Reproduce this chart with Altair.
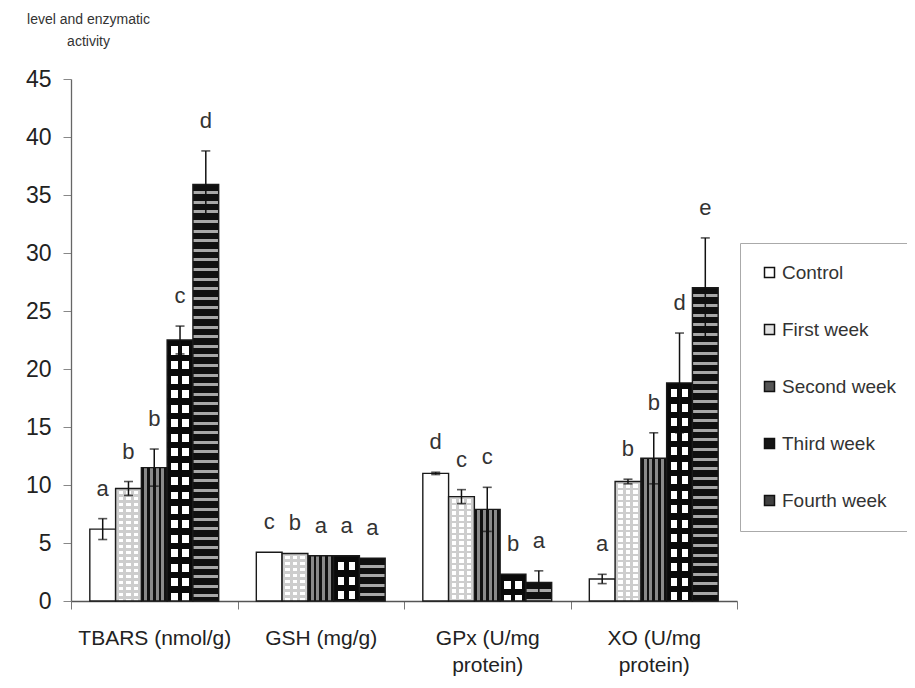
import altair as alt
import pandas as pd

categories = ["TBARS (nmol/g)", "GSH (mg/g)", "GPx (U/mg\nprotein)", "XO (U/mg\nprotein)"]
series = ["Control", "First week", "Second week", "Third week", "Fourth week"]

tbars_vals = [6.2, 9.7, 11.5, 22.5, 35.9]
tbars_err = [0.9, 0.6, 1.6, 1.2, 2.9]
tbars_let = ["a", "b", "b", "c", "d"]

gsh_vals = [4.2, 4.1, 3.9, 3.9, 3.7]
gsh_err = [0.0, 0.0, 0.0, 0.0, 0.0]
gsh_let = ["c", "b", "a", "a", "a"]

gpx_vals = [11.0, 9.0, 7.9, 2.3, 1.6]
gpx_err = [0.1, 0.6, 1.9, 0.0, 1.0]
gpx_let = ["d", "c", "c", "b", "a"]

xo_vals = [1.9, 10.3, 12.3, 18.8, 27.0]
xo_err = [0.4, 0.2, 2.2, 4.3, 4.3]
xo_let = ["a", "b", "b", "d", "e"]

vals = [tbars_vals, gsh_vals, gpx_vals, xo_vals]
errs = [tbars_err, gsh_err, gpx_err, xo_err]
lets = [tbars_let, gsh_let, gpx_let, xo_let]

rows = []
for ci, c in enumerate(categories):
    for si, s in enumerate(series):
        v = vals[ci][si]
        e = errs[ci][si]
        rows.append({"category": c, "series": s, "key": f"{ci}-{si}",
                     "value": v, "err": e, "top": v + e, "low": v - e,
                     "letter": lets[ci][si]})
df = pd.DataFrame(rows)

FONT = "Liberation Sans, Arial, sans-serif"
W, H = 666, 522
YMAX = 45
PPU = H / YMAX

xscale = alt.Scale(domain=categories, paddingInner=0, paddingOuter=0)
oscale = alt.Scale(domain=series, paddingInner=0, paddingOuter=0.73)
yscale = alt.Scale(domain=[0, YMAX], nice=False, zero=True)

xaxis = alt.Axis(title=None, labelAngle=0, labelFontSize=21, labelFont=FONT,
                 labelColor="#222", labelExpr="split(datum.label, '\\n')",
                 labelLineHeight=27, labelBaseline="top", labelPadding=18,
                 tickBand="extent", tickSize=8, tickColor="#777",
                 domainColor="#555", domainWidth=1.3, labelFontWeight="normal")
yaxis = alt.Axis(title=["level and enzymatic", "activity"], titleAngle=0,
                 titleAlign="center", titleBaseline="top", titleX=17, titleY=-67,
                 titleFontSize=14, titleFont=FONT, titleFontWeight="normal",
                 titleColor="#333", titleLineHeight=22,
                 values=list(range(0, 46, 5)), labelFontSize=23, labelFont=FONT,
                 labelColor="#222", labelPadding=12, tickSize=8, tickColor="#888",
                 domainColor="#666", domainWidth=1.3, grid=False)

enc_x = alt.X("category:N", sort=categories, scale=xscale, axis=xaxis)
enc_o = alt.XOffset("series:N", sort=series, scale=oscale)
enc_y = alt.Y("value:Q", scale=yscale, axis=yaxis)


def hard_stops(bounds, colors):
    stops = []
    for i, col in enumerate(colors):
        stops.append({"offset": round(bounds[i], 5), "color": col})
        stops.append({"offset": round(bounds[i + 1], 5), "color": col})
    return stops


def xgrad(bounds, colors):
    return {"gradient": "linear", "x1": 0, "y1": 0, "x2": 1, "y2": 0,
            "stops": hard_stops(bounds, colors)}


def ygrad(height_px, seg_a, col_a, seg_b, col_b):
    bounds = [0.0]
    colors = []
    pos = 0.0
    toggle = True
    while pos < height_px:
        seg = seg_a if toggle else seg_b
        nxt = min(pos + seg, height_px)
        bounds.append(nxt / height_px)
        colors.append(col_a if toggle else col_b)
        pos = nxt
        toggle = not toggle
    return {"gradient": "linear", "x1": 0, "y1": 0, "x2": 0, "y2": 1,
            "stops": hard_stops(bounds, colors)}


STROKE = dict(stroke="#1a1a1a", strokeWidth=1.4)


def bar_layer(fill, key=None, ser=None, stroke=True):
    ch = alt.Chart()
    if key is not None:
        ch = ch.transform_filter(alt.FieldEqualPredicate(field="key", equal=key))
    if ser is not None:
        ch = ch.transform_filter(alt.FieldEqualPredicate(field="series", equal=ser))
    kw = dict(STROKE) if stroke else {"strokeWidth": 0}
    return ch.mark_bar(fill=fill, **kw).encode(x=enc_x, xOffset=enc_o, y=enc_y)


layers = []
# Control: plain white
layers.append(bar_layer("white", ser="Control"))
# Second week: vertical stripes
sec_b = [i / 9 for i in range(10)]
sec_c = ["#111", "#8a8a8a"] * 4 + ["#111"]
layers.append(bar_layer(xgrad(sec_b, sec_c), ser="Second week"))

for ci in range(len(categories)):
    # First week: light dotted
    k1 = f"{ci}-1"
    h1 = vals[ci][1] * PPU
    layers.append(bar_layer(xgrad([0, .12, .3, .41, .59, .7, .88, 1],
                                  ["#cdcdcd", "white", "#cdcdcd", "white", "#cdcdcd", "white", "#cdcdcd"]),
                            key=k1, stroke=False))
    layers.append(bar_layer(ygrad(h1, 2.5, "#cdcdcd", 3.5, "rgba(0,0,0,0)"), key=k1))
    # Third week: black with white dots
    k3 = f"{ci}-3"
    h3 = vals[ci][3] * PPU
    layers.append(bar_layer(xgrad([0, .16, .42, .58, .84, 1],
                                  ["#0a0a0a", "white", "#0a0a0a", "white", "#0a0a0a"]),
                            key=k3, stroke=False))
    layers.append(bar_layer(ygrad(h3, 6.5, "#0a0a0a", 8.0, "rgba(0,0,0,0)"), key=k3))
    # Fourth week: horizontal stripes
    k4 = f"{ci}-4"
    h4 = vals[ci][4] * PPU
    layers.append(bar_layer(ygrad(h4, 6.6, "#101010", 3.0, "#a8a8a8"), key=k4))

errbase = alt.Chart().transform_filter(alt.datum.err > 0)
rules = errbase.mark_rule(color="#111", strokeWidth=1.5).encode(
    x=enc_x, xOffset=enc_o,
    y=alt.Y("low:Q", scale=yscale, axis=yaxis), y2="top:Q")
cap_top = errbase.mark_tick(orient="horizontal", size=9, thickness=1.6, color="#111").encode(
    x=enc_x, xOffset=enc_o, y=alt.Y("top:Q", scale=yscale, axis=yaxis))
cap_low = errbase.mark_tick(orient="horizontal", size=9, thickness=1.6, color="#111").encode(
    x=enc_x, xOffset=enc_o, y=alt.Y("low:Q", scale=yscale, axis=yaxis))

letters = alt.Chart().mark_text(baseline="bottom", dy=-18, fontSize=22, font=FONT,
                                color="#333").encode(
    x=enc_x, xOffset=enc_o, y=alt.Y("top:Q", scale=yscale, axis=yaxis), text="letter:N")

legend_colors = ["white", "#e2e2e2", "#555555", "#151515", "#404040"]
legend_layer = alt.Chart().mark_square(size=0, opacity=1).encode(
    x=enc_x, xOffset=enc_o, y=alt.Y("value:Q", scale=yscale, axis=yaxis),
    color=alt.Color("series:N", sort=series,
                    scale=alt.Scale(domain=series, range=legend_colors),
                    legend=alt.Legend(title=None, orient="none", legendX=669, legendY=164,
                                      padding=20, rowPadding=37, labelFontSize=19,
                                      labelFont=FONT, labelColor="#333", labelOffset=3,
                                      symbolType="square", symbolSize=100,
                                      symbolStrokeColor="#111", symbolStrokeWidth=1.5,
                                      symbolOpacity=1, symbolFillColor="white",
                                      strokeColor="#aaa", fillColor="white",
                                      cornerRadius=0)))

chart = alt.layer(*layers, rules, cap_top, cap_low, letters, legend_layer, data=df).properties(
    width=W, height=H,
    autosize=alt.AutoSizeParams(type="none"),
    padding={"left": 63, "top": 71, "right": 170, "bottom": 80},
    background="white",
).configure_view(stroke=None).configure_axis(grid=False)

chart.save("out.html", embed_options={"renderer": "svg", "actions": False})
